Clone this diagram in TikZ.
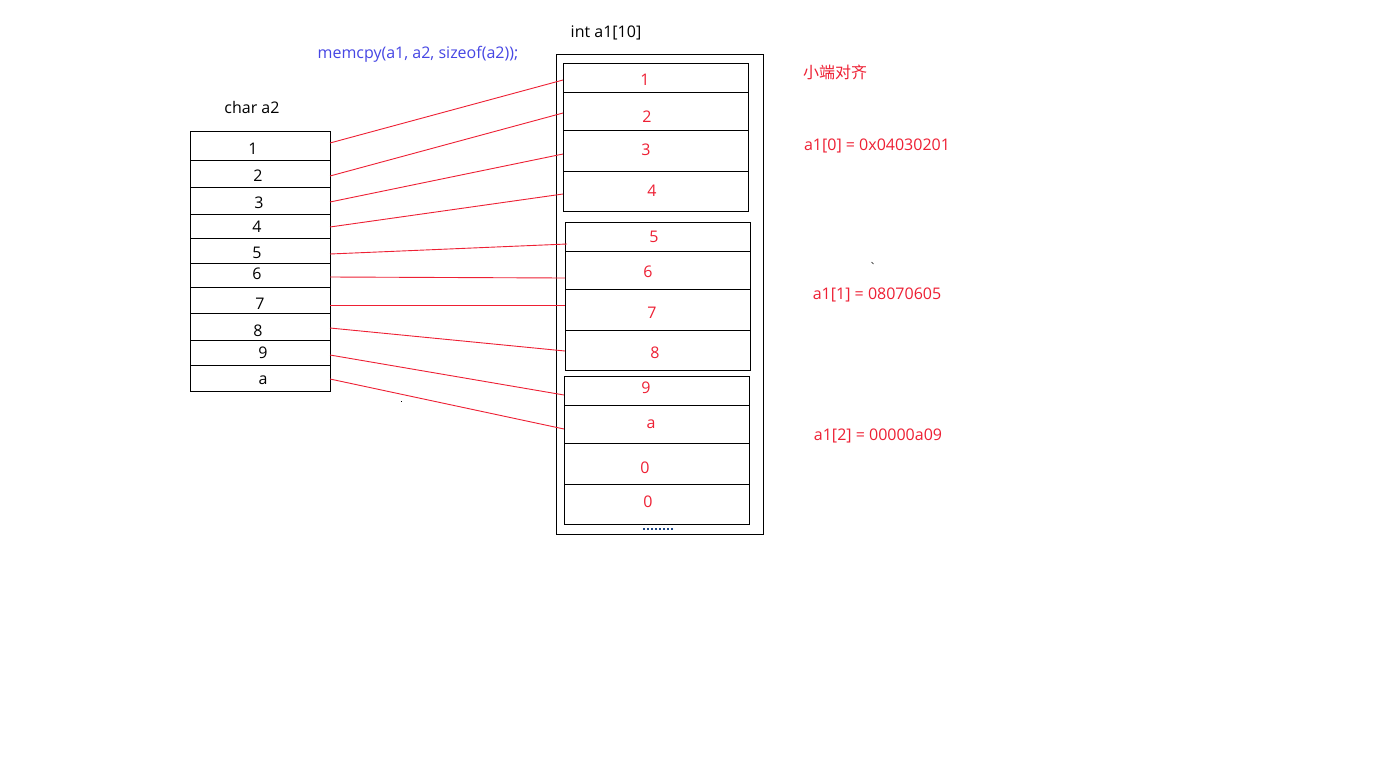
\documentclass[tikz,border=0pt]{standalone}
\usepackage{fontspec}
\setmainfont{Open Sans}
\newfontfamily\cjkfont{Noto Sans CJK SC}
\usetikzlibrary{calc}
\definecolor{memred}{RGB}{238,32,52}
\definecolor{codeblue}{RGB}{70,70,228}
\definecolor{dotblue}{RGB}{30,70,130}
\begin{document}
\begin{tikzpicture}[x=1pt,y=-1pt,
  cell/.style={draw=black,line width=1pt,minimum width=#1,inner sep=0pt,outer sep=0pt},
  lbl/.style={font=\fontsize{16}{18}\selectfont,inner sep=0pt,text=black},
  rlbl/.style={font=\fontsize{16}{18}\selectfont,inner sep=0pt,text=memred},
  link/.style={draw=memred,line width=0.9pt}]
\useasboundingbox (0,0) rectangle (1376,758);
\fill[white] (0,0) rectangle (1376,758);

% char a2: ten one-byte cells
\foreach \n/\ya/\yb in {1/131/160,2/160/187,3/187/214,4/214/238,5/238/263,
                        6/263/287,7/287/313,8/313/340,9/340/365,a/365/391}{
  \node[cell=140pt,minimum height={\yb-\ya}] (L\n) at (260,{(\ya+\yb)/2}) {};
}
\foreach \n/\x/\y in {1/253/149,2/258/176,3/259/203,4/257/227,5/257/253,
                      6/257/274,7/260/304,8/258/331,9/263/353,a/263/380}{
  \node[lbl] (lt\n) at (\x,\y) {\n};
}
\node[lbl] (a2title) at (252,107) {char a2};

% int a1[10]: outer frame with three 4-byte groups
\node[cell=207pt,minimum height=480pt] (a1box) at (659.5,294) {};
\node[lbl] (a1title) at (606,33) {int a1[10]};
\node[font=\fontsize{16}{18}\selectfont,inner sep=0pt,text=codeblue] (call) at (418,54) {memcpy(a1, a2, sizeof(a2));};

\foreach \n/\xc/\w/\ya/\yb in {1/655.5/185/63/92,2/655.5/185/92/130,3/655.5/185/130/171,4/655.5/185/171/211,
                               5/657.5/185/222/251,6/657.5/185/251/289,7/657.5/185/289/330,8/657.5/185/330/370,
                               9/656.5/185/376/405,a/656.5/185/405/443,z1/656.5/185/443/484,z2/656.5/185/484/524}{
  \node[cell=\w pt,minimum height={\yb-\ya}] (R\n) at (\xc,{(\ya+\yb)/2}) {};
}
\foreach \n/\t/\x/\y in {1/1/645/80,2/2/647/117,3/3/646/150,4/4/652/191,
                         5/5/654/237,6/6/648/272,7/7/652/313,8/8/655/353,
                         9/9/646/388,a/a/651/424,z1/0/645/468,z2/0/648/502}{
  \node[rlbl] (rt\n) at (\x,\y) {\t};
}
\coordinate (dotsL) at (643,529);
\coordinate (dotsR) at (673,529);
\draw[dotblue,line width=2pt,dash pattern=on 2pt off 2pt] (dotsL) -- (dotsR);

% byte copies
\draw[link] ([yshift=2.5pt]L1.east) -- ([yshift=-2.5pt]R1.west);
\draw[link] ([yshift=-2.5pt]L2.east) -- ([yshift=-2pt]R2.west);
\draw[link] ([yshift=-1.5pt]L3.east) -- ([yshift=-3.5pt]R3.west);
\draw[link] ([yshift=-1pt]L4.east) -- ([yshift=-3pt]R4.west);
\draw[link] ([yshift=-3.5pt]L5.east) -- ([xshift=2pt,yshift=-7.5pt]R5.west);
\draw[link] ([yshift=-2pt]L6.east) -- ([yshift=-8pt]R6.west);
\draw[link] ([yshift=-5pt]L7.east) -- ([yshift=4.5pt]R7.west);
\draw[link] ([yshift=-1.5pt]L8.east) -- ([yshift=-1pt]R8.west);
\draw[link] ([yshift=-2.5pt]L9.east) -- ([yshift=-4.5pt]R9.west);
\draw[link] ([yshift=-1pt]La.east) -- ([yshift=-5pt]Ra.west);

% notes
\node[text=memred,font=\cjkfont\fontsize{16}{18}\selectfont,inner sep=0pt] (endian) at (835,72) {小端对齐};
\node[rlbl] (v0) at (877,146) {a1[0] = 0x04030201};
\node[rlbl] (v1) at (877,295) {a1[1] = 08070605};
\node[rlbl] (v2) at (878,436) {a1[2] = 00000a09};

% stray pen marks
\fill[black] (400.5,400.5) rectangle (402,401.5);
\draw[black,line width=0.6pt] (871.5,262) -- (873.5,264);
\end{tikzpicture}
\end{document}
